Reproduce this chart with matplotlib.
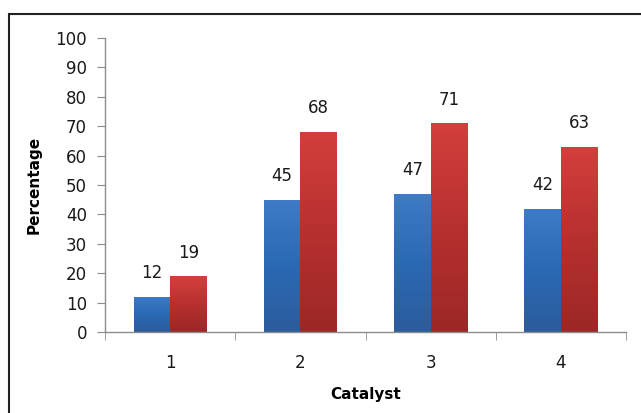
import numpy as np
import matplotlib
matplotlib.use("Agg")
import matplotlib.pyplot as plt
from matplotlib.colors import LinearSegmentedColormap
from matplotlib.patches import Rectangle

categories = ["1", "2", "3", "4"]
series_a = [12, 45, 47, 42]
series_b = [19, 68, 71, 63]

blue_cmap = LinearSegmentedColormap.from_list(
    "blue_grad", ["#2c5c9c", "#2a69b4", "#3f7bc6"])
red_cmap = LinearSegmentedColormap.from_list(
    "red_grad", ["#9b2827", "#b7302f", "#d33f3c"])

fig = plt.figure(figsize=(6.41, 4.13), dpi=100)
ax = fig.add_axes([105 / 641, 81 / 413, 521 / 641, 294 / 413])

x = np.arange(len(categories))
width = 0.28

def gradient_bars(xpos, values, cmap):
    bars = ax.bar(xpos, values, width, color="none", edgecolor="none", zorder=2)
    grad = np.linspace(0, 1, 256).reshape(-1, 1)
    for b in bars:
        x0, y0 = b.get_x(), b.get_y()
        w, h = b.get_width(), b.get_height()
        im = ax.imshow(grad, cmap=cmap, origin="lower", aspect="auto",
                       extent=[x0, x0 + w, y0, y0 + h], zorder=2,
                       interpolation="bilinear")
        im.set_clip_path(b)
    return bars

bars_a = gradient_bars(x - width / 2, series_a, blue_cmap)
bars_b = gradient_bars(x + width / 2, series_b, red_cmap)

for bars, vals in ((bars_a, series_a), (bars_b, series_b)):
    for b, v in zip(bars, vals):
        ax.annotate(str(v), (b.get_x() + b.get_width() / 2, v),
                    xytext=(0, 10.5), textcoords="offset points",
                    ha="center", va="bottom", fontsize=12, color="#1a1a1a")

ax.set_xlim(-0.5, len(categories) - 0.5)
ax.set_ylim(0, 100)
ax.set_yticks(np.arange(0, 101, 10))
ax.set_xticks(x)
ax.set_xticklabels(categories)
ax.set_xticks(np.arange(-0.5, len(categories), 1), minor=True)

for s in ("top", "right"):
    ax.spines[s].set_visible(False)
for s in ("left", "bottom"):
    ax.spines[s].set_color("#8c8c8c")
    ax.spines[s].set_linewidth(1.0)

ax.tick_params(axis="y", direction="out", length=6, color="#8c8c8c",
               labelsize=12, labelcolor="#1a1a1a", pad=7)
ax.tick_params(axis="x", which="major", length=0, labelsize=12,
               labelcolor="#1a1a1a", pad=16)
ax.tick_params(axis="x", which="minor", direction="out", length=6,
               color="#8c8c8c")

ax.set_ylabel("Percentage", fontsize=11, fontweight="bold", labelpad=10)
ax.set_xlabel("Catalyst", fontsize=11, fontweight="bold", labelpad=11)

# Chart-area frame
fig.patches.append(Rectangle((9 / 641, -0.1), 1.2, (413 - 14) / 413 + 0.1,
                             transform=fig.transFigure, fill=False,
                             edgecolor="#222222", linewidth=1.5))

fig.savefig("out.png", dpi=100)
